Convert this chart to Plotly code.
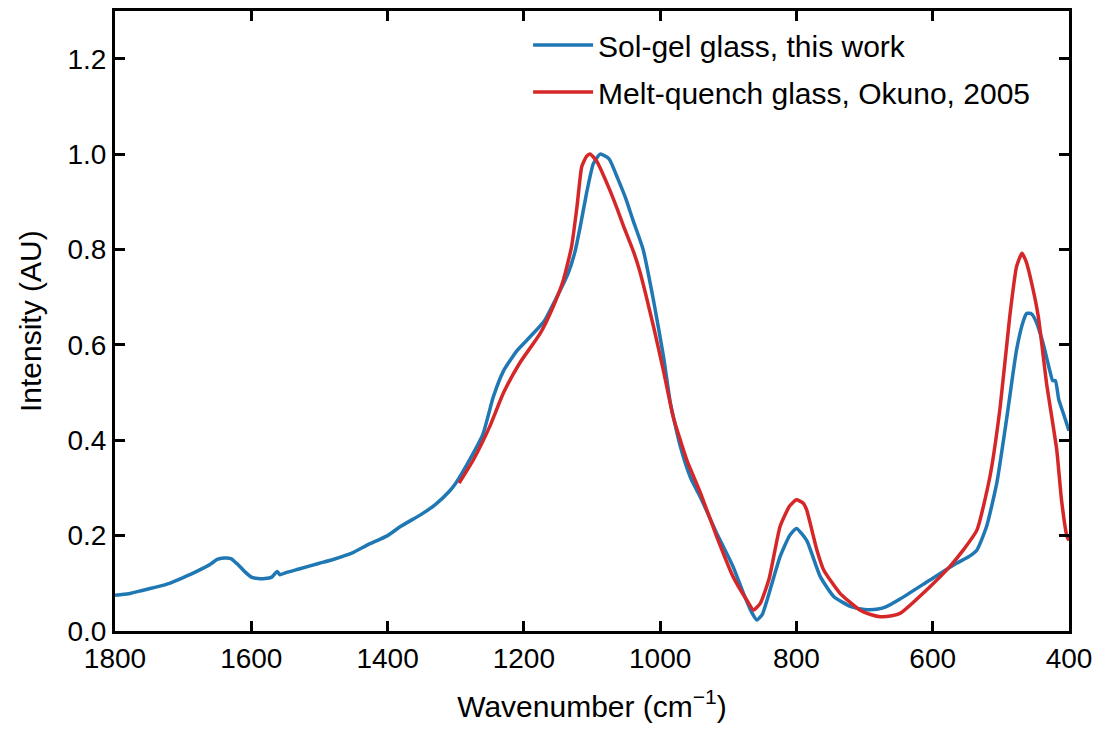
import plotly.graph_objects as go

# Sol-gel glass spectrum (this work)
solgel_wavenumber = [1800, 1780, 1760, 1740, 1720, 1700, 1680, 1660, 1650, 1640, 1630, 1620,
                     1610, 1600, 1590, 1580, 1570, 1562, 1558, 1550, 1530, 1500, 1480, 1450,
                     1430, 1400, 1380, 1350, 1330, 1310, 1300, 1280, 1260, 1245, 1230, 1210,
                     1190, 1170, 1150, 1135, 1125, 1117, 1108, 1098, 1088, 1075, 1062, 1050,
                     1040, 1025, 1010, 995, 985, 970, 955, 940, 917, 893, 878, 866, 858, 850,
                     843, 824, 810, 800, 785, 765, 745, 720, 700, 680, 668, 648, 604, 565,
                     548, 535, 521, 506, 491, 477, 467, 462, 455, 448, 438, 428, 424, 420,
                     415, 408, 400]
solgel_intensity = [0.075, 0.078, 0.085, 0.092, 0.100, 0.112, 0.125, 0.140, 0.150, 0.153, 0.152, 0.140,
                    0.125, 0.113, 0.110, 0.110, 0.113, 0.125, 0.118, 0.122, 0.130, 0.142, 0.150, 0.165,
                    0.180, 0.200, 0.220, 0.245, 0.265, 0.292, 0.310, 0.358, 0.413, 0.490, 0.545, 0.588,
                    0.618, 0.650, 0.705, 0.750, 0.795, 0.850, 0.918, 0.980, 1.000, 0.990, 0.948, 0.905,
                    0.862, 0.800, 0.695, 0.575, 0.478, 0.385, 0.320, 0.278, 0.205, 0.135, 0.080, 0.040, 0.023, 0.035,
                    0.065, 0.156, 0.200, 0.215, 0.190, 0.114, 0.072, 0.051, 0.045, 0.046, 0.051, 0.067, 0.107, 0.142,
                    0.155, 0.170, 0.219, 0.310, 0.450, 0.589, 0.650, 0.666, 0.665, 0.648, 0.603, 0.545, 0.525, 0.525,
                    0.485, 0.455, 0.420]

# Melt-quench glass spectrum (Okuno, 2005)
melt_wavenumber = [1295, 1274, 1250, 1230, 1206, 1176, 1157, 1142, 1130, 1122, 1115, 1108, 1103,
                   1093, 1074, 1063, 1054, 1039, 1030, 1010, 995, 981, 961, 941, 917, 893, 873,
                   863, 853, 840, 824, 810, 800, 790, 785, 770, 760, 736, 707, 690, 677, 660,
                   648, 604, 575, 555, 535, 516, 501, 487, 477, 469, 463, 457, 445, 433, 418,
                   411, 403, 400]
melt_intensity = [0.310, 0.359, 0.429, 0.499, 0.562, 0.624, 0.680, 0.736, 0.806, 0.890, 0.974, 0.995, 1.000,
                  0.985, 0.925, 0.885, 0.850, 0.795, 0.755, 0.640, 0.545, 0.450, 0.359, 0.290, 0.198, 0.114, 0.065,
                  0.044, 0.058, 0.110, 0.219, 0.262, 0.275, 0.268, 0.254, 0.170, 0.128, 0.079, 0.044, 0.034, 0.030, 0.032,
                  0.037, 0.093, 0.135, 0.170, 0.212, 0.324, 0.470, 0.659, 0.764, 0.792, 0.775, 0.743, 0.659, 0.520, 0.380,
                  0.275, 0.198, 0.190]

x_ticks = [1800, 1600, 1400, 1200, 1000, 800, 600, 400]
y_ticks = [0.0, 0.2, 0.4, 0.6, 0.8, 1.0, 1.2]

FONT = "Liberation Sans, Arial, sans-serif"

fig = go.Figure()
fig.add_trace(go.Scatter(
    x=solgel_wavenumber, y=solgel_intensity, mode="lines",
    name="Sol-gel glass, this work", legendgroup="a",
    line=dict(color="#1f77b4", width=3.5, shape="spline", smoothing=0.5),
))
fig.add_trace(go.Scatter(
    x=melt_wavenumber, y=melt_intensity, mode="lines",
    name="Melt-quench glass, Okuno, 2005", legendgroup="b",
    line=dict(color="#d62728", width=3.5, shape="spline", smoothing=0.5),
))

axis_common = dict(
    showline=True, linecolor="black", linewidth=3, mirror="ticks",
    ticks="inside", ticklen=10, tickwidth=2.5, tickcolor="black",
    showgrid=False, zeroline=False, automargin=False,
    tickfont=dict(family=FONT, size=28, color="black"),
)

fig.update_layout(
    width=1099, height=729,
    margin=dict(l=115, r=30, t=11, b=98),
    plot_bgcolor="white", paper_bgcolor="white",
    font=dict(family=FONT, color="black"),
    xaxis=dict(
        range=[1800, 400], tickvals=x_ticks, ticktext=[str(v) for v in x_ticks],
        title=dict(text="Wavenumber (cm<sup>\u22121</sup>)", font=dict(family=FONT, size=30), standoff=24),
        **axis_common,
    ),
    yaxis=dict(
        range=[0, 1.3], tickvals=y_ticks, ticktext=[f"{v:.1f}" for v in y_ticks],
        **axis_common,
    ),
    legend=dict(
        x=0.433, y=0.987, xanchor="left", yanchor="top",
        font=dict(family=FONT, size=30, color="black"),
        bgcolor="rgba(0,0,0,0)", borderwidth=0,
        itemwidth=60, traceorder="grouped", tracegroupgap=5,
    ),
    showlegend=True,
)

# Vertical y-axis title placed left of the tick labels
fig.add_annotation(
    text="Intensity (AU)", textangle=-90,
    xref="paper", yref="paper", x=-0.089, y=0.5,
    xanchor="center", yanchor="middle", showarrow=False,
    font=dict(family=FONT, size=30, color="black"),
)

fig.write_html("out.html")
